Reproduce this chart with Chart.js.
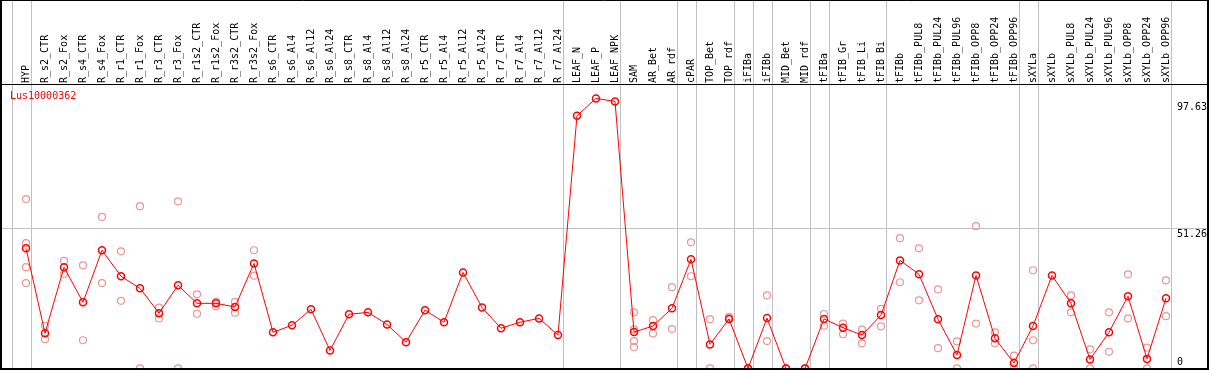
<!DOCTYPE html>
<html>
<head>
<meta charset="utf-8">
<script src="https://cdn.jsdelivr.net/npm/chart.js@4"></script>
<style>
  body { margin: 0; background: #fff; }
</style>
</head>
<body>
<canvas id="expr" width="1209" height="370"></canvas>
<script>
'use strict'

const geneName = 'Lus10000362';

const samples = ['HYP','R_s2_CTR','R_s2_Fox','R_s4_CTR','R_s4_Fox','R_r1_CTR','R_r1_Fox','R_r3_CTR','R_r3_Fox',
  'R_r1s2_CTR','R_r1s2_Fox','R_r3s2_CTR','R_r3s2_Fox','R_s6_CTR','R_s6_Al4','R_s6_Al12','R_s6_Al24',
  'R_s8_CTR','R_s8_Al4','R_s8_Al12','R_s8_Al24','R_r5_CTR','R_r5_Al4','R_r5_Al12','R_r5_Al24',
  'R_r7_CTR','R_r7_Al4','R_r7_Al12','R_r7_Al24','LEAF_N','LEAF_P','LEAF_NPK','SAM','AR_Bet','AR_rdf',
  'cPAR','TOP_Bet','TOP_rdf','iFIBa','iFIBb','MID_Bet','MID_rdf','tFIBa','tFIB_Gr','tFIB_Li','tFIB_Bi',
  'tFIBb','tFIBb_PUL8','tFIBb_PUL24','tFIBb_PUL96','tFIBb_OPP8','tFIBb_OPP24','tFIBb_OPP96','sXYLa',
  'sXYLb','sXYLb_PUL8','sXYLb_PUL24','sXYLb_PUL96','sXYLb_OPP8','sXYLb_OPP24','sXYLb_OPP96'];

// mean expression per sample
const meanValues = [43.9, 12.9, 37.0, 24.2, 43.2, 33.7, 29.3, 20.2, 30.4, 23.8, 23.8, 22.5, 38.4,
  13.2, 15.8, 21.6, 6.6, 19.8, 20.5, 16.1, 9.6, 21.3, 16.9, 35.1, 22.3, 14.7, 16.9, 18.3, 12.2,
  92.4, 98.7, 97.6,
  13.3, 15.5, 22.0, 39.9, 8.8, 18.1, 0, 18.4, 0, 0, 18.1, 14.9, 12.2, 19.5,
  39.5, 34.4, 18.0, 4.9, 34.0, 11.0, 2.0, 15.5,
  34.0, 23.8, 3.3, 13.2, 26.4, 3.5, 25.7];

// replicates
const rep1 = [61.9, 15.6, 39.3, 37.7, 55.4, 42.8, 59.3, 22.2, 61.1, 27.1, 24.4, 24.3, 43.2,
  null, null, null, null, null, null, null, null, null, null, null, null, null, null, null, null,
  null, null, null,
  20.5, 17.7, 29.7, 46.1, 18.0, 18.9, 0, 26.7, 0, 0, 19.9, 16.4, 14.2, 21.8,
  47.6, 43.9, 28.9, 9.9, 52.0, 13.2, 4.7, 35.9,
  null, 26.7, 7.0, 20.5, 34.4, 7.6, 32.2];

const rep2 = [45.8, 10.7, 34.5, 10.3, 31.2, 24.7, 0, 18.3, 0, 20.0, 22.7, 20.4, 33.9,
  null, null, null, null, null, null, null, null, null, null, null, null, null, null, null, null,
  null, null, null,
  14.3, 12.8, 14.4, 33.7, 0, 18.4, 0, 10.0, 0, 0, 15.6, 12.5, 9.2, 15.4,
  31.5, 24.9, 7.4, 0, 16.4, 9.2, 0, 10.3,
  null, 20.5, 0, 6.1, 18.3, 0, 19.1];

// samples with more than two replicates
const extraRepIdx = [0, 0, 32, 32, 53];
const extraRepVal = [37.0, 31.2, 10.0, 7.8, 0];

const yTickValues = [0, 51.26, 97.63];
const groupEnds = [-1, 0, 28, 31, 34, 35, 37, 38, 39, 41, 42, 45, 52, 53, 60];

const toPoints = arr => arr.map((v, i) => ({x: i, y: v}));
const mono = {family: 'DejaVu Sans Mono', size: 10};
const pink = 'rgb(232,150,150)';

const noPad = s => {
  s.paddingTop = 0; s.paddingBottom = 0;
  s.paddingLeft = 0; s.paddingRight = 0;
};

const framePlugin = {
  id: 'frame',
  beforeDatasetsDraw(chart) {
    const {ctx, chartArea} = chart;
    const x = chart.scales.x;
    ctx.save();
    ctx.strokeStyle = '#c0c0c0';
    ctx.lineWidth = 1;
    groupEnds.forEach(g => {
      const px = Math.round(x.getPixelForValue(g + 0.24)) + 0.5;
      ctx.beginPath();
      ctx.moveTo(px, 0);
      ctx.lineTo(px, chartArea.bottom);
      ctx.stroke();
    });
    ctx.restore();
  },
  afterDraw(chart) {
    const {ctx, chartArea, width} = chart;
    ctx.save();
    ctx.strokeStyle = '#000';
    ctx.lineWidth = 1;
    ctx.beginPath();
    ctx.moveTo(0, 0.5); ctx.lineTo(width, 0.5);
    ctx.moveTo(0, chartArea.top - 0.5); ctx.lineTo(width, chartArea.top - 0.5);
    ctx.stroke();
    ctx.lineWidth = 2;
    ctx.beginPath();
    ctx.moveTo(1, 0); ctx.lineTo(1, 370);
    ctx.moveTo(width - 1, 0); ctx.lineTo(width - 1, 370);
    ctx.moveTo(0, chartArea.bottom); ctx.lineTo(width, chartArea.bottom);
    ctx.stroke();
    ctx.fillStyle = '#ff0000';
    ctx.font = '10px "DejaVu Sans Mono"';
    ctx.textBaseline = 'middle';
    ctx.fillText(geneName, 10, 96);
    ctx.restore();
  }
};

const exprChart = new Chart(document.getElementById('expr'), {
  type: 'line',
  data: {
    datasets: [{
      label: 'mean',
      data: toPoints(meanValues),
      borderColor: '#ff0000',
      borderWidth: 1,
      pointRadius: 3.5,
      pointBorderWidth: 1.5,
      pointBorderColor: '#ff0000',
      pointBackgroundColor: 'rgba(0,0,0,0)',
      tension: 0,
    }, {
      label: 'rep1',
      data: toPoints(rep1),
      showLine: false,
      pointRadius: 3.5,
      pointBorderWidth: 1.2,
      pointBorderColor: pink,
      pointBackgroundColor: 'rgba(0,0,0,0)',
    }, {
      label: 'rep2',
      data: toPoints(rep2),
      showLine: false,
      pointRadius: 3.5,
      pointBorderWidth: 1.2,
      pointBorderColor: pink,
      pointBackgroundColor: 'rgba(0,0,0,0)',
    }, {
      label: 'rep3',
      data: extraRepIdx.map((i, k) => ({x: i, y: extraRepVal[k]})),
      showLine: false,
      pointRadius: 3.5,
      pointBorderWidth: 1.2,
      pointBorderColor: pink,
      pointBackgroundColor: 'rgba(0,0,0,0)',
    }]
  },
  options: {
    responsive: false,
    animation: false,
    devicePixelRatio: 1,
    events: [],
    layout: {autoPadding: false, padding: {left: 2, right: 2, top: 0, bottom: 1}},
    plugins: {legend: {display: false}, tooltip: {enabled: false}},
    scales: {
      x: {
        type: 'linear',
        position: 'top',
        bounds: 'data',
        min: (2 - 26) / 19,
        max: (1207 - 26) / 19,
        afterBuildTicks: s => { s.ticks = samples.map((_, i) => ({value: i})); },
        afterFit: s => { s.height = 85; noPad(s); },
        grid: {display: false, drawTicks: false},
        border: {display: false},
        ticks: {
          autoSkip: false,
          minRotation: 90,
          maxRotation: 90,
          padding: 2,
          labelOffset: 12,
          color: '#000',
          font: mono,
          callback: v => samples[v]
        }
      },
      y: {
        type: 'linear',
        position: 'right',
        bounds: 'data',
        min: -0.2,
        max: 103.6,
        afterBuildTicks: s => { s.ticks = yTickValues.map(v => ({value: v})); },
        afterFit: s => { s.width = 0; noPad(s); },
        grid: {
          drawTicks: false,
          color: c => (c.tick && c.tick.value === 51.26) ? '#c0c0c0' : 'rgba(0,0,0,0)'
        },
        border: {display: false},
        ticks: {
          mirror: true,
          crossAlign: 'far',
          padding: 0,
          color: '#000',
          font: mono,
          callback: v => v === 0 ? ['0', ''] : ['', String(v)]
        }
      }
    }
  },
  plugins: [framePlugin]
});
</script>
</body>
</html>
